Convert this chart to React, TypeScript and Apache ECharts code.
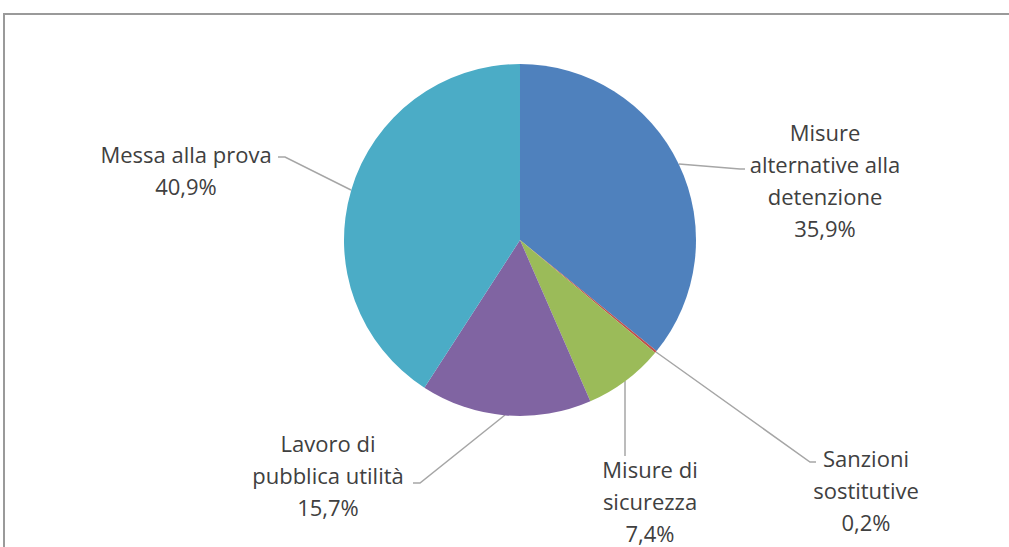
import React, { useEffect, useRef } from "react";
import * as echarts from "echarts";

const categories = [
  "Misure alternative alla detenzione",
  "Sanzioni sostitutive",
  "Misure di sicurezza",
  "Lavoro di pubblica utilità",
  "Messa alla prova",
];
const labelTexts = [
  "Misure\nalternative alla\ndetenzione",
  "Sanzioni\nsostitutive",
  "Misure di\nsicurezza",
  "Lavoro di\npubblica utilità",
  "Messa alla prova",
];
const values = [35.9, 0.2, 7.4, 15.7, 40.9];
const colors = ["#4F81BD", "#C0504D", "#9BBB59", "#8064A2", "#4BACC6"];

// label anchor positions (centre of text block) and leader line points
const labelPos = [
  { x: 825, y: 180, line: [[679, 164], [740, 169], [745, 169]] },
  { x: 866, y: 490, line: [[656, 352], [810, 462], [816, 462]] },
  { x: 650, y: 501, line: [[625, 381], [625, 456]] },
  { x: 328, y: 475, line: [[505, 415], [420, 483], [413, 483]] },
  { x: 186, y: 170, line: [[351, 190], [285, 157], [278, 157]] },
];

export default function App() {
  const ref = useRef<HTMLDivElement>(null);
  useEffect(() => {
    const chart = echarts.init(ref.current!, undefined, { renderer: "svg" });
    chart.setOption({
      animation: false,
      backgroundColor: "#ffffff",
      graphic: [
        {
          type: "rect",
          shape: { x: 4, y: 14, width: 1030, height: 560 },
          style: { fill: "none", stroke: "#9a9a9a", lineWidth: 2 },
          silent: true,
        },
      ],
      series: [
        {
          type: "pie",
          center: [520, 240],
          radius: 176,
          startAngle: 90,
          clockwise: true,
          data: categories.map((c, i) => ({
            name: c,
            value: values[i],
            itemStyle: { color: colors[i] },
          })),
          itemStyle: { borderWidth: 0 },
          label: {
            show: true,
            formatter: (p: any) =>
              labelTexts[p.dataIndex] + "\n" + p.value.toFixed(1).replace(".", ",") + "%",
            fontFamily: "'Open Sans', Lato, sans-serif",
            fontSize: 22,
            lineHeight: 32,
            color: "#404040",
            align: "center",
          },
          labelLine: {
            show: true,
            lineStyle: { color: "#a6a6a6", width: 1.5 },
          },
          labelLayout: (params: any) => {
            const lp = labelPos[params.dataIndex];
            return {
              x: lp.x,
              y: lp.y,
              align: "center",
              verticalAlign: "middle",
              labelLinePoints: lp.line,
            };
          },
        },
      ],
    });
    return () => chart.dispose();
  }, []);
  return (
    <div
      ref={ref}
      style={{ position: "fixed", left: 0, top: 0, width: 1009, height: 547 }}
    />
  );
}
